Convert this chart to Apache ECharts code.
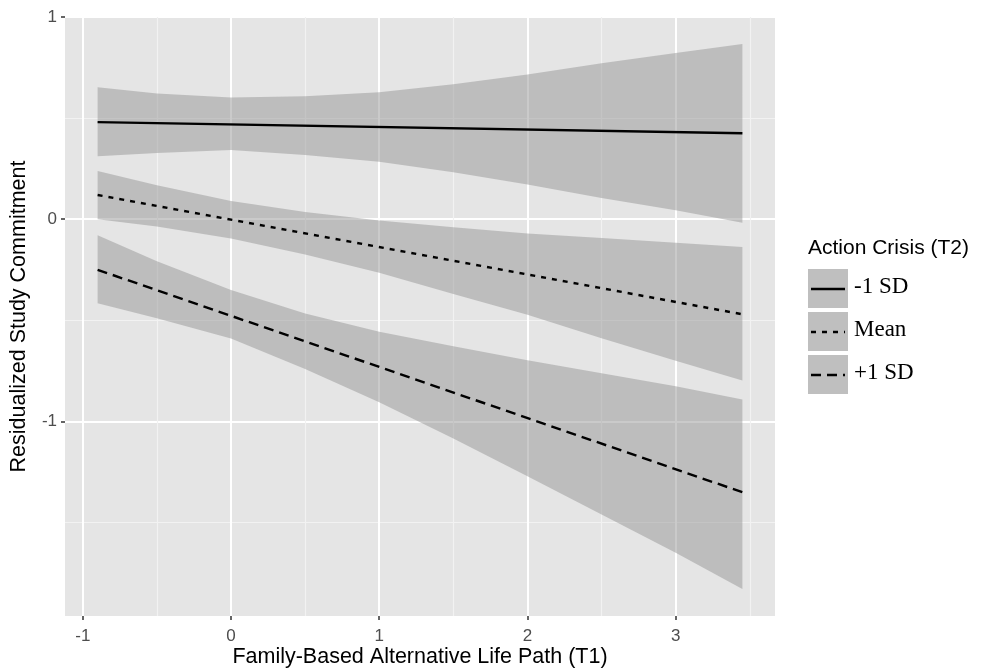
<!DOCTYPE html>
<html>
<head>
<meta charset="utf-8">
<script src="https://cdn.jsdelivr.net/npm/echarts@6/dist/echarts.min.js"></script>
<style>
  html, body { margin: 0; padding: 0; background: #fff; }
  #main { width: 987px; height: 670px; }
</style>
</head>
<body>
<div id="main"></div>
<script>
const xs = [-0.9, -0.5, 0, 0.5, 1, 1.5, 2, 2.5, 3, 3.45];
// fitted lines are straight, so just the two ends
const lineX = [-0.9, 3.45];
const lowSDLine = [0.48, 0.425];
const meanLine = [0.12, -0.47];
const highSDLine = [-0.25, -1.35];

// confidence bands
const lowSDUpper = [0.653, 0.622, 0.602, 0.608, 0.628, 0.668, 0.716, 0.771, 0.822, 0.866];
const lowSDLower = [0.312, 0.328, 0.342, 0.318, 0.284, 0.232, 0.172, 0.105, 0.045, -0.018];
const meanUpper = [0.239, 0.168, 0.09, 0.036, -0.006, -0.04, -0.07, -0.093, -0.116, -0.137];
const meanLower = [0.0, -0.036, -0.095, -0.175, -0.265, -0.37, -0.472, -0.589, -0.7, -0.797];
const highSDUpper = [-0.079, -0.208, -0.35, -0.466, -0.556, -0.628, -0.697, -0.762, -0.826, -0.891];
const highSDLower = [-0.416, -0.49, -0.59, -0.74, -0.905, -1.084, -1.271, -1.46, -1.649, -1.828];

const xTicks = [-1, 0, 1, 2, 3];
const xMinor = [-0.5, 0.5, 1.5, 2.5, 3.5];
const yTicks = [-1, 0, 1];
const yMinor = [-1.5, -0.5, 0.5];

const legendNames = ['-1 SD', 'Mean', '+1 SD'];

const RIBBON = 'rgba(150,150,150,0.5)';
const SANS = '"Liberation Sans", Arial, sans-serif';
const SERIF = '"Liberation Serif", "Times New Roman", serif';

const chart = echarts.init(document.getElementById('main'));

// ribbon as one polygon: upper edge left->right, lower edge right->left
function ribbon(lower, upper) {
  return {
    type: 'custom', silent: true, z: 2,
    data: xs.map((x, i) => [x, lower[i], upper[i]]),
    renderItem: function (params, api) {
      if (params.dataIndex !== 0) return null;
      const pts = [];
      xs.forEach((x, i) => pts.push(api.coord([x, upper[i]])));
      for (let i = xs.length - 1; i >= 0; i--) pts.push(api.coord([xs[i], lower[i]]));
      return { type: 'polygon', shape: { points: pts }, style: { fill: RIBBON } };
    },
    encode: { x: 0, y: [1, 2] }
  };
}

function fitLine(vals, dash) {
  return {
    type: 'line', symbol: 'none', z: 5,
    data: lineX.map((x, i) => [x, vals[i]]),
    lineStyle: { color: '#000', width: 2.4, type: dash, cap: 'butt' }
  };
}

const axisBase = {
  type: 'value',
  axisLine: { show: false, onZero: false },
  axisTick: { show: true, length: 4, lineStyle: { color: '#333', width: 1.5 } },
  axisLabel: { color: '#4d4d4d', fontSize: 17, fontFamily: SANS },
  splitLine: { show: true, lineStyle: { color: '#ffffff', width: 2 } }
};

// legend drawn by hand: grey key boxes with line samples
const legendGraphic = [{
  type: 'text', left: 808, top: 238,
  style: { text: 'Action Crisis (T2)', font: '21px ' + SANS, fill: '#000' }
}];
const dashes = [null, [5, 6], [10, 6]];
legendNames.forEach((nm, i) => {
  const top = 269 + i * 43;
  legendGraphic.push({
    type: 'rect', shape: { x: 808, y: top, width: 40, height: 39 },
    style: { fill: '#bfbfbf' }
  });
  legendGraphic.push({
    type: 'line', shape: { x1: 811, y1: top + 20, x2: 845, y2: top + 20 },
    style: { stroke: '#000', lineWidth: 2.4, lineDash: dashes[i] }
  });
  legendGraphic.push({
    type: 'text', left: 854, top: top + 6,
    style: { text: nm, font: '23px ' + SERIF, fill: '#000' }
  });
});

const option = {
  animation: false,
  backgroundColor: '#ffffff',
  grid: {
    left: 65, top: 17, right: 212, bottom: 54,
    outerBoundsMode: 'none',
    show: true, backgroundColor: '#e5e5e5', borderWidth: 0
  },
  xAxis: [
    Object.assign({}, axisBase, {
      min: -1.12, max: 3.67,
      name: 'Family-Based Alternative Life Path (T1)',
      nameLocation: 'middle', nameGap: 30, nameMoveOverlap: false,
      nameTextStyle: { color: '#000', fontSize: 21.5, fontFamily: SANS },
      axisTick: Object.assign({}, axisBase.axisTick, { customValues: xTicks }),
      axisLabel: Object.assign({}, axisBase.axisLabel, { customValues: xTicks, margin: 12 })
    }),
    {
      type: 'value', min: -1.12, max: 3.67,
      axisLine: { show: false, onZero: false },
      axisTick: { show: false, customValues: xMinor },
      axisLabel: { show: false, customValues: xMinor },
      splitLine: { show: true, lineStyle: { color: '#f2f2f2', width: 1.2 } }
    }
  ],
  yAxis: [
    Object.assign({}, axisBase, {
      min: -1.962, max: 1.0,
      name: 'Residualized Study Commitment',
      nameLocation: 'middle', nameGap: 35, nameMoveOverlap: false,
      nameTextStyle: { color: '#000', fontSize: 21.5, fontFamily: SANS },
      axisTick: Object.assign({}, axisBase.axisTick, { customValues: yTicks }),
      axisLabel: Object.assign({}, axisBase.axisLabel, { customValues: yTicks, margin: 8 })
    }),
    {
      type: 'value', min: -1.962, max: 1.0, position: 'left',
      axisLine: { show: false, onZero: false },
      axisTick: { show: false, customValues: yMinor },
      axisLabel: { show: false, customValues: yMinor },
      splitLine: { show: true, lineStyle: { color: '#f2f2f2', width: 1.2 } }
    }
  ],
  graphic: legendGraphic,
  series: [
    ribbon(lowSDLower, lowSDUpper),
    ribbon(meanLower, meanUpper),
    ribbon(highSDLower, highSDUpper),
    fitLine(lowSDLine, 'solid'),
    fitLine(meanLine, [5, 6]),
    fitLine(highSDLine, [10, 6])
  ]
};

chart.setOption(option);
</script>
</body>
</html>
